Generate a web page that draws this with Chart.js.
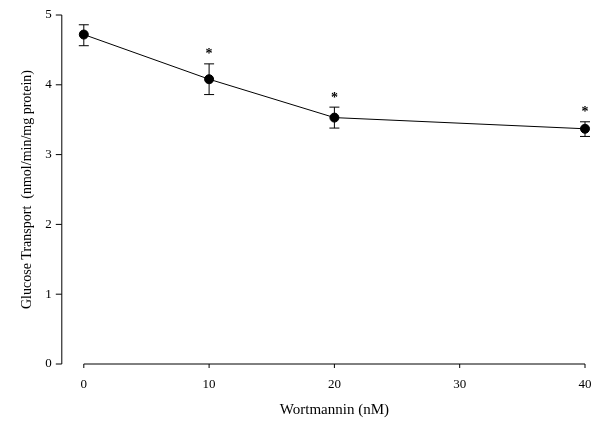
<!DOCTYPE html>
<html><head>
<script src="https://cdn.jsdelivr.net/npm/chart.js@4/dist/chart.umd.min.js"></script>
<style>html,body{margin:0;background:#fff}#wrap{width:601px;height:424px}</style>
</head><body><div id="wrap"><canvas id="c"></canvas></div>
<script>
// data
const doses = [0, 10, 20, 40];
const transport = [4.72, 4.08, 3.53, 3.37];
const errLow = [4.56, 3.86, 3.38, 3.26];
const errHigh = [4.86, 4.30, 3.68, 3.47];
const significant = [false, true, true, true];
const xTicks = [0, 10, 20, 30, 40];
const yTicks = [0, 1, 2, 3, 4, 5];

const FONT = 'Liberation Serif, Times New Roman, serif';

// error bars, stars, and the axes with their labels
const extras = {
  id: 'extras',
  afterDatasetsDraw(chart) {
    const { ctx, scales: { x, y } } = chart;
    ctx.save();
    ctx.strokeStyle = '#000';
    ctx.fillStyle = '#000';
    ctx.lineWidth = 1;
    doses.forEach((d, i) => {
      const px = x.getPixelForValue(d);
      const lo = y.getPixelForValue(errLow[i]), hi = y.getPixelForValue(errHigh[i]);
      ctx.beginPath();
      ctx.moveTo(px, lo); ctx.lineTo(px, hi);
      ctx.moveTo(px - 5, lo); ctx.lineTo(px + 5, lo);
      ctx.moveTo(px - 5, hi); ctx.lineTo(px + 5, hi);
      ctx.stroke();
      if (significant[i]) {
        ctx.font = 'bold 14px ' + FONT;
        ctx.textAlign = 'center';
        ctx.textBaseline = 'middle';
        ctx.fillText('*', px, hi - 9);
      }
    });
    ctx.font = '13px ' + FONT;
    // y axis sits left of the plot, x axis on the zero line
    const ax = x.left - 22;
    const ay = y.getPixelForValue(0);
    ctx.beginPath();
    ctx.moveTo(ax, ay); ctx.lineTo(ax, y.getPixelForValue(5));
    yTicks.forEach(t => { const py = y.getPixelForValue(t); ctx.moveTo(ax, py); ctx.lineTo(ax - 6, py); });
    ctx.moveTo(x.getPixelForValue(0), ay); ctx.lineTo(x.getPixelForValue(40), ay);
    xTicks.forEach(t => { const px = x.getPixelForValue(t); ctx.moveTo(px, ay); ctx.lineTo(px, ay + 4); });
    ctx.stroke();
    ctx.textAlign = 'right'; ctx.textBaseline = 'middle';
    yTicks.forEach(t => ctx.fillText(String(t), ax - 10, y.getPixelForValue(t)));
    ctx.textAlign = 'center';
    xTicks.forEach(t => ctx.fillText(String(t), x.getPixelForValue(t), ay + 21));
    ctx.restore();
  }
};

new Chart(document.getElementById('c'), {
  type: 'scatter',
  data: {
    datasets: [{
      data: doses.map((d, i) => ({ x: d, y: transport[i] })),
      showLine: true,
      clip: false,
      borderColor: '#000',
      borderWidth: 1,
      backgroundColor: '#000',
      pointRadius: 4.5,
      pointBorderColor: '#000'
    }]
  },
  options: {
    responsive: true,
    maintainAspectRatio: false,
    animation: false,
    layout: { padding: { left: 19, right: 16, top: 15, bottom: 5 } },
    plugins: { legend: { display: false }, tooltip: { enabled: false } },
    scales: {
      x: {
        type: 'linear', min: 0, max: 40,
        grid: { display: false, drawTicks: false },
        border: { display: false },
        ticks: { display: false },
        title: { display: true, text: 'Wortmannin (nM)', color: '#000', font: { family: FONT, size: 15 }, padding: { top: 37, bottom: 0 } }
      },
      y: {
        min: 0, max: 5,
        grid: { display: false, drawTicks: false },
        border: { display: false },
        ticks: { display: false },
        title: { display: true, text: 'Glucose Transport  (nmol/min/mg protein)', color: '#000', font: { family: FONT, size: 14 }, padding: { top: 0, bottom: 48 } }
      }
    }
  },
  plugins: [extras]
});
</script></body></html>
